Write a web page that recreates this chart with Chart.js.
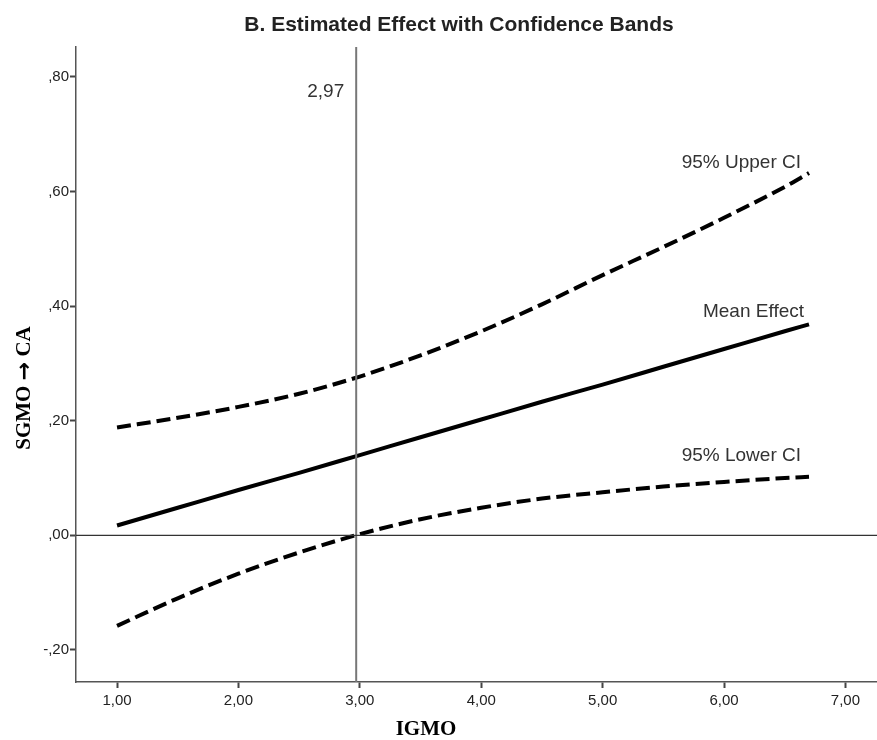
<!DOCTYPE html>
<html>
<head>
<meta charset="utf-8">
<script src="https://cdn.jsdelivr.net/npm/chart.js@4"></script>
<style>
  body { margin: 0; background: #fff; }
  #wrap { width: 877px; height: 740px; }
</style>
</head>
<body>
<div id="wrap"><canvas id="chart" width="877" height="740"></canvas></div>
<script>
// values
const xValues = [1, 1.5, 2, 2.5, 3, 3.5, 4, 4.5, 5, 5.5, 6, 6.5, 6.7];
const meanEffect = [0.017, 0.048, 0.079, 0.109, 0.140, 0.171, 0.202, 0.233, 0.263, 0.294, 0.325, 0.356, 0.368];
const upperCI = [0.188, 0.205, 0.224, 0.247, 0.277, 0.314, 0.356, 0.403, 0.454, 0.503, 0.554, 0.608, 0.632];
const lowerCI = [-0.158, -0.110, -0.067, -0.030, 0.002, 0.028, 0.048, 0.064, 0.075, 0.085, 0.093, 0.100, 0.102];

const refX = 2.97;
const xTicks = [1, 2, 3, 4, 5, 6, 7];
const yTicks = [-0.2, 0, 0.2, 0.4, 0.6, 0.8];
const xRange = [0.662, 7.26];
const yRange = [-0.256, 0.852];

const chartTitle = "B. Estimated Effect with Confidence Bands";
const xTitle = "IGMO";
const yTitleParts = ["SGMO ", "\u2192", " CA"];

const toPoints = ys => ys.map((y, i) => ({ x: xValues[i], y: y }));

// SPSS style number format: ,80  -,20  1,00
function fmt(v) {
  let s = Number(v).toFixed(2).replace(".", ",");
  return s.replace(/^(-?)0,/, "$1,");
}

// text labels and titles
const labelPlugin = {
  id: "labels",
  afterDraw(chart) {
    const c = chart.ctx;
    const xs = chart.scales.x, ys = chart.scales.y;
    const last = xValues.length - 1;
    const xEnd = xs.getPixelForValue(xValues[last]);
    c.save();
    c.fillStyle = "#222";

    c.font = "bold 21px 'Liberation Sans', Arial, sans-serif";
    c.textAlign = "center";
    c.textBaseline = "alphabetic";
    c.fillText(chartTitle, 459, 31);

    c.font = "19px 'Liberation Sans', Arial, sans-serif";
    c.fillStyle = "#333";
    c.textAlign = "right";
    c.fillText(fmt(refX), xs.getPixelForValue(refX) - 12, 97);
    c.fillText("95% Upper CI", xEnd - 8, ys.getPixelForValue(upperCI[last]) - 5);
    c.fillText("Mean Effect", xEnd - 5, ys.getPixelForValue(meanEffect[last]) - 7);
    c.fillText("95% Lower CI", xEnd - 8, ys.getPixelForValue(lowerCI[last]) - 16);

    c.fillStyle = "#000";
    c.font = "bold 21px 'Liberation Serif', 'Times New Roman', serif";
    c.textAlign = "center";
    c.fillText(xTitle, 426, 735);

    // y title, arrow in a heavier font
    const serif = "bold 21px 'Liberation Serif', 'Times New Roman', serif";
    const arrowFont = "bold 22px 'DejaVu Sans', sans-serif";
    const fonts = [serif, arrowFont, serif];
    let widths = yTitleParts.map((t, i) => { c.font = fonts[i]; return c.measureText(t).width; });
    let total = widths.reduce((a, b) => a + b, 0);
    c.translate(30, 388);
    c.rotate(-Math.PI / 2);
    c.textAlign = "left";
    let pos = -total / 2;
    yTitleParts.forEach((t, i) => {
      c.font = fonts[i];
      c.fillText(t, pos, i === 1 ? 1 : 0);
      pos += widths[i];
    });
    c.restore();
  }
};

const dashed = [14, 6];

new Chart(document.getElementById("chart"), {
  type: "line",
  data: {
    datasets: [
      {
        label: "zero",
        data: [{ x: xRange[0], y: 0 }, { x: xRange[1], y: 0 }],
        borderColor: "#333",
        borderWidth: 1.2
      },
      {
        label: "ref",
        data: [{ x: refX, y: yRange[0] }, { x: refX, y: yRange[1] }],
        borderColor: "#777",
        borderWidth: 2
      },
      {
        label: "95% Upper CI",
        data: toPoints(upperCI),
        borderColor: "#000",
        borderWidth: 4,
        borderDash: dashed,
        cubicInterpolationMode: "monotone"
      },
      {
        label: "Mean Effect",
        data: toPoints(meanEffect),
        borderColor: "#000",
        borderWidth: 4,
        cubicInterpolationMode: "monotone"
      },
      {
        label: "95% Lower CI",
        data: toPoints(lowerCI),
        borderColor: "#000",
        borderWidth: 4,
        borderDash: dashed,
        cubicInterpolationMode: "monotone"
      }
    ]
  },
  options: {
    responsive: false,
    animation: false,
    layout: { padding: { left: 0, top: 47, right: 0, bottom: 0 } },
    elements: { point: { radius: 0 }, line: { borderCapStyle: "butt" } },
    plugins: {
      legend: { display: false },
      title: { display: false },
      tooltip: { enabled: false }
    },
    scales: {
      x: {
        type: "linear",
        min: xRange[0],
        max: xRange[1],
        afterBuildTicks: s => { s.ticks = xTicks.map(v => ({ value: v })); },
        afterFit: s => { s.height = 58; },
        border: { display: true, color: "#555", width: 1.5 },
        grid: { drawOnChartArea: false, drawTicks: true, tickLength: 6, tickWidth: 2, tickColor: "#444" },
        ticks: {
          color: "#222",
          padding: 4,
          maxRotation: 0,
          font: { family: "'Liberation Sans', Arial, sans-serif", size: 15 },
          callback: v => fmt(v)
        }
      },
      y: {
        type: "linear",
        min: yRange[0],
        max: yRange[1],
        afterBuildTicks: s => { s.ticks = yTicks.map(v => ({ value: v })); },
        afterFit: s => { s.width = 76; },
        border: { display: true, color: "#555", width: 1.5 },
        grid: { drawOnChartArea: false, drawTicks: true, tickLength: 6, tickWidth: 2, tickColor: "#444" },
        ticks: {
          color: "#222",
          padding: 1,
          font: { family: "'Liberation Sans', Arial, sans-serif", size: 15 },
          callback: v => fmt(v)
        }
      }
    }
  },
  plugins: [labelPlugin]
});
</script>
</body>
</html>
